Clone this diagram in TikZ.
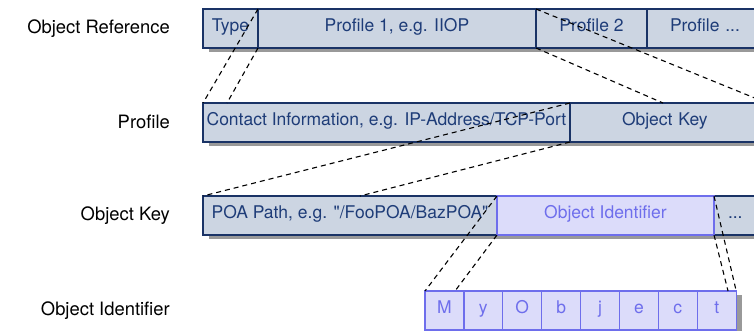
\documentclass[tikz,border=0pt]{standalone}
\usepackage{fontspec}
\setmainfont{TeX Gyre Heros}[Ligatures=TeXOff]
\usetikzlibrary{calc,positioning}
\usetikzlibrary{backgrounds}

\definecolor{navy}{RGB}{26,51,102}
\definecolor{navytext}{RGB}{30,60,120}
\definecolor{reffill}{RGB}{204,213,226}
\definecolor{idfill}{RGB}{220,220,250}
\definecolor{idline}{RGB}{110,110,236}
\definecolor{shadowgray}{RGB}{153,153,153}

\tikzset{
  cell/.style={draw, outer sep=0pt, inner sep=0pt, minimum height=39pt,
    text height=1.45ex, text depth=0.3ex, font=\fontsize{17.5}{20}\selectfont},
  refbox/.style={cell, fill=reffill, draw=navy, text=navytext, line width=1.3pt},
  idbox/.style={cell, fill=idfill, draw=idline, text=idline, line width=1.3pt},
  rowlabel/.style={anchor=east, inner sep=0pt, font=\fontsize{18.4}{21}\selectfont},
  zoomline/.style={dash pattern=on 5pt off 4pt, line width=1.1pt},
  shade/.style={fill=shadowgray}
}

\begin{document}
\begin{tikzpicture}[x=1pt, y=-1pt]
  \useasboundingbox (0,0) rectangle (754,331);

  \node[rowlabel] (lref) at (170,28.5) {Object Reference};
  \node[rowlabel] (lprof) at (170,122) {Profile};
  \node[rowlabel] (lkey) at (170,215.5) {Object Key};
  \node[rowlabel] (lid) at (170,310.5) {Object Identifier};

  % object reference
  \node[refbox, minimum width=55pt, anchor=north west] (type) at (203,9) {Type};
  \node[refbox, minimum width=278pt, right=0pt of type] (prof1) {Profile 1, e.g. IIOP};
  \node[refbox, minimum width=111pt, right=0pt of prof1] (prof2) {Profile 2};
  \node[refbox, minimum width=113pt, right=0pt of prof2, text width=107pt, align=left] (profx) {\hspace*{20pt}Profile ...};

  % profile
  \node[refbox, minimum width=367pt, anchor=north west] (ctc) at (203,103) {Contact Information, e.g. IP-Address/TCP-Port};
  \node[refbox, minimum width=197pt, right=0pt of ctc, text width=197pt, align=left] (okey) {\hspace*{52pt}Object Key};

  % object key
  \node[refbox, minimum width=294pt, anchor=north west] (poa) at (203,196) {POA Path, e.g. "/FooPOA/BazPOA"};
  \node[refbox, minimum width=44pt, anchor=north west, text width=40pt, align=left] (dots) at (714,196) {\hspace*{12pt}...};
  \node[idbox, minimum width=217pt, right=0pt of poa] (objid) {Object Identifier};

  % object identifier
  \foreach \ch [count=\i] in {M,y,O,b,j,e,c,t}
    \node[idbox, minimum width=38.9pt, anchor=north west] (c\i) at ({425+38.9*(\i-1)},291) {\ch};

  \begin{pgfonlayer}{background}
  \fill[shade] ($(type.south west)+(6,4)$) rectangle ($(profx.north east)+(6,4)$);
  \fill[shade] ($(ctc.south west)+(6,4)$) rectangle ($(okey.north east)+(6,4)$);
  \fill[shade] ($(poa.south west)+(6,4)$) rectangle ($(dots.north east)+(6,4)$);
  \fill[shade] ($(c1.south west)+(6,4)$) rectangle ($(c8.north east)+(6,4)$);
  \end{pgfonlayer}

  \coordinate (kb) at (227,103);
  \coordinate (kd) at (663,103);
  \coordinate (pf) at (360,196);
  \coordinate (mh) at (455,291);
  \coordinate (ti) at (728,291);

  \draw[zoomline] (type.north east) -- (ctc.north west);
  \draw[zoomline] (type.south east) -- (kb);
  \draw[zoomline] (prof2.north west) -- (okey.north east);
  \draw[zoomline] (prof2.south west) -- (kd);
  \draw[zoomline] (ctc.north east) -- (poa.north west);
  \draw[zoomline] (ctc.south east) -- (pf);
  \draw[zoomline] (poa.north east) -- (c1.north west);
  \draw[zoomline] (poa.south east) -- (mh);
  \draw[zoomline] (dots.north west) -- (c8.north east);
  \draw[zoomline] (dots.south west) -- (ti);
\end{tikzpicture}
\end{document}
